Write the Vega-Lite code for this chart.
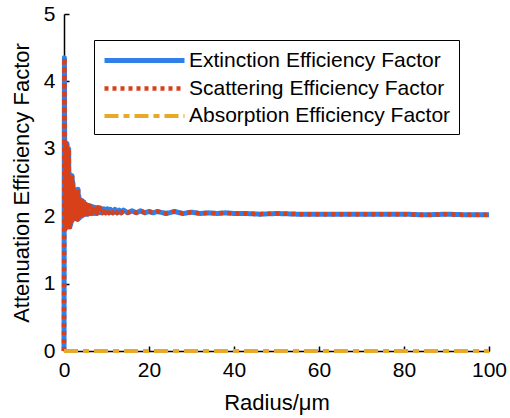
{
  "$schema": "https://vega.github.io/schema/vega-lite/v6.json",
  "width": 425,
  "height": 337,
  "autosize": {"type": "none"},
  "padding": {"left": 64, "top": 14, "right": 21, "bottom": 67},
  "background": "white",
  "config": {"view": {"stroke": null}, "font": "Liberation Sans"},
  "data": {
    "values": [
      {"r": 0, "Extinction": 0, "Scattering": 0, "Absorption": 0},
      {"r": 0.1, "Extinction": 4.35, "Scattering": 4.35, "Absorption": 0},
      {"r": 0.2, "Extinction": 1.8, "Scattering": 1.8, "Absorption": 0},
      {"r": 0.3, "Extinction": 3.1, "Scattering": 3.1, "Absorption": 0},
      {"r": 0.4, "Extinction": 1.82, "Scattering": 1.82, "Absorption": 0},
      {"r": 0.5, "Extinction": 3.05, "Scattering": 3.05, "Absorption": 0},
      {"r": 0.6, "Extinction": 1.84, "Scattering": 1.84, "Absorption": 0},
      {"r": 0.7, "Extinction": 3.08, "Scattering": 3.08, "Absorption": 0},
      {"r": 0.8, "Extinction": 1.85, "Scattering": 1.85, "Absorption": 0},
      {"r": 0.9, "Extinction": 2.95, "Scattering": 2.95, "Absorption": 0},
      {"r": 1.0, "Extinction": 1.84, "Scattering": 1.84, "Absorption": 0},
      {"r": 1.1, "Extinction": 3.0, "Scattering": 3.0, "Absorption": 0},
      {"r": 1.2, "Extinction": 1.85, "Scattering": 1.85, "Absorption": 0},
      {"r": 1.3, "Extinction": 2.6, "Scattering": 2.6, "Absorption": 0},
      {"r": 1.4, "Extinction": 1.84, "Scattering": 1.84, "Absorption": 0},
      {"r": 1.5, "Extinction": 2.62, "Scattering": 2.62, "Absorption": 0},
      {"r": 1.6, "Extinction": 1.88, "Scattering": 1.88, "Absorption": 0},
      {"r": 1.7, "Extinction": 2.55, "Scattering": 2.55, "Absorption": 0},
      {"r": 1.8, "Extinction": 1.92, "Scattering": 1.92, "Absorption": 0},
      {"r": 1.9, "Extinction": 2.6, "Scattering": 2.6, "Absorption": 0},
      {"r": 2.0, "Extinction": 1.95, "Scattering": 1.95, "Absorption": 0},
      {"r": 2.1, "Extinction": 2.5, "Scattering": 2.5, "Absorption": 0},
      {"r": 2.2, "Extinction": 1.98, "Scattering": 1.98, "Absorption": 0},
      {"r": 2.3, "Extinction": 2.38, "Scattering": 2.38, "Absorption": 0},
      {"r": 2.4, "Extinction": 1.96, "Scattering": 1.96, "Absorption": 0},
      {"r": 2.5, "Extinction": 2.4, "Scattering": 2.4, "Absorption": 0},
      {"r": 2.6, "Extinction": 1.99, "Scattering": 1.99, "Absorption": 0},
      {"r": 2.7, "Extinction": 2.36, "Scattering": 2.36, "Absorption": 0},
      {"r": 2.8, "Extinction": 1.97, "Scattering": 1.97, "Absorption": 0},
      {"r": 2.9, "Extinction": 2.38, "Scattering": 2.38, "Absorption": 0},
      {"r": 3.0, "Extinction": 1.96, "Scattering": 1.96, "Absorption": 0},
      {"r": 3.1, "Extinction": 2.35, "Scattering": 2.35, "Absorption": 0},
      {"r": 3.2, "Extinction": 1.95, "Scattering": 1.95, "Absorption": 0},
      {"r": 3.3, "Extinction": 2.4, "Scattering": 2.4, "Absorption": 0},
      {"r": 3.4, "Extinction": 2.0, "Scattering": 2.0, "Absorption": 0},
      {"r": 3.5, "Extinction": 2.3, "Scattering": 2.3, "Absorption": 0},
      {"r": 3.6, "Extinction": 1.97, "Scattering": 1.97, "Absorption": 0},
      {"r": 3.7, "Extinction": 2.25, "Scattering": 2.25, "Absorption": 0},
      {"r": 3.8, "Extinction": 2.0, "Scattering": 2.0, "Absorption": 0},
      {"r": 3.9, "Extinction": 2.24, "Scattering": 2.24, "Absorption": 0},
      {"r": 4.0, "Extinction": 2.02, "Scattering": 2.02, "Absorption": 0},
      {"r": 4.1, "Extinction": 2.22, "Scattering": 2.22, "Absorption": 0},
      {"r": 4.2, "Extinction": 2.0, "Scattering": 2.0, "Absorption": 0},
      {"r": 4.3, "Extinction": 2.23, "Scattering": 2.23, "Absorption": 0},
      {"r": 4.4, "Extinction": 2.03, "Scattering": 2.03, "Absorption": 0},
      {"r": 4.5, "Extinction": 2.2, "Scattering": 2.2, "Absorption": 0},
      {"r": 4.6, "Extinction": 2.02, "Scattering": 2.02, "Absorption": 0},
      {"r": 4.7, "Extinction": 2.21, "Scattering": 2.21, "Absorption": 0},
      {"r": 4.8, "Extinction": 2.03, "Scattering": 2.03, "Absorption": 0},
      {"r": 5.0, "Extinction": 2.18, "Scattering": 2.18, "Absorption": 0},
      {"r": 5.2, "Extinction": 2.03, "Scattering": 2.03, "Absorption": 0},
      {"r": 5.4, "Extinction": 2.17, "Scattering": 2.17, "Absorption": 0},
      {"r": 5.6, "Extinction": 2.03, "Scattering": 2.03, "Absorption": 0},
      {"r": 5.8, "Extinction": 2.16, "Scattering": 2.16, "Absorption": 0},
      {"r": 6.0, "Extinction": 2.04, "Scattering": 2.04, "Absorption": 0},
      {"r": 6.2, "Extinction": 2.15, "Scattering": 2.15, "Absorption": 0},
      {"r": 6.5, "Extinction": 2.04, "Scattering": 2.04, "Absorption": 0},
      {"r": 6.8, "Extinction": 2.14, "Scattering": 2.14, "Absorption": 0},
      {"r": 7.1, "Extinction": 2.04, "Scattering": 2.04, "Absorption": 0},
      {"r": 7.4, "Extinction": 2.13, "Scattering": 2.13, "Absorption": 0},
      {"r": 7.7, "Extinction": 2.04, "Scattering": 2.04, "Absorption": 0},
      {"r": 8.0, "Extinction": 2.13, "Scattering": 2.13, "Absorption": 0},
      {"r": 8.3, "Extinction": 2.05, "Scattering": 2.05, "Absorption": 0},
      {"r": 8.6, "Extinction": 2.12, "Scattering": 2.12, "Absorption": 0},
      {"r": 9.0, "Extinction": 2.05, "Scattering": 2.05, "Absorption": 0},
      {"r": 9.4, "Extinction": 2.11, "Scattering": 2.11, "Absorption": 0},
      {"r": 9.8, "Extinction": 2.05, "Scattering": 2.05, "Absorption": 0},
      {"r": 10.2, "Extinction": 2.11, "Scattering": 2.11, "Absorption": 0},
      {"r": 10.6, "Extinction": 2.05, "Scattering": 2.05, "Absorption": 0},
      {"r": 11, "Extinction": 2.1, "Scattering": 2.1, "Absorption": 0},
      {"r": 11.5, "Extinction": 2.05, "Scattering": 2.05, "Absorption": 0},
      {"r": 12, "Extinction": 2.1, "Scattering": 2.1, "Absorption": 0},
      {"r": 12.5, "Extinction": 2.05, "Scattering": 2.05, "Absorption": 0},
      {"r": 13, "Extinction": 2.09, "Scattering": 2.09, "Absorption": 0},
      {"r": 13.5, "Extinction": 2.05, "Scattering": 2.05, "Absorption": 0},
      {"r": 14, "Extinction": 2.09, "Scattering": 2.09, "Absorption": 0},
      {"r": 15, "Extinction": 2.05, "Scattering": 2.05, "Absorption": 0},
      {"r": 16, "Extinction": 2.08, "Scattering": 2.08, "Absorption": 0},
      {"r": 17, "Extinction": 2.05, "Scattering": 2.05, "Absorption": 0},
      {"r": 18, "Extinction": 2.08, "Scattering": 2.08, "Absorption": 0},
      {"r": 19, "Extinction": 2.05, "Scattering": 2.05, "Absorption": 0},
      {"r": 20, "Extinction": 2.07, "Scattering": 2.07, "Absorption": 0},
      {"r": 21, "Extinction": 2.05, "Scattering": 2.05, "Absorption": 0},
      {"r": 22, "Extinction": 2.07, "Scattering": 2.07, "Absorption": 0},
      {"r": 24, "Extinction": 2.04, "Scattering": 2.04, "Absorption": 0},
      {"r": 26, "Extinction": 2.07, "Scattering": 2.07, "Absorption": 0},
      {"r": 28, "Extinction": 2.04, "Scattering": 2.04, "Absorption": 0},
      {"r": 30, "Extinction": 2.06, "Scattering": 2.06, "Absorption": 0},
      {"r": 32, "Extinction": 2.04, "Scattering": 2.04, "Absorption": 0},
      {"r": 34, "Extinction": 2.05, "Scattering": 2.05, "Absorption": 0},
      {"r": 36, "Extinction": 2.04, "Scattering": 2.04, "Absorption": 0},
      {"r": 38, "Extinction": 2.05, "Scattering": 2.05, "Absorption": 0},
      {"r": 40, "Extinction": 2.04, "Scattering": 2.04, "Absorption": 0},
      {"r": 43, "Extinction": 2.04, "Scattering": 2.04, "Absorption": 0},
      {"r": 46, "Extinction": 2.03, "Scattering": 2.03, "Absorption": 0},
      {"r": 50, "Extinction": 2.04, "Scattering": 2.04, "Absorption": 0},
      {"r": 55, "Extinction": 2.03, "Scattering": 2.03, "Absorption": 0},
      {"r": 60, "Extinction": 2.03, "Scattering": 2.03, "Absorption": 0},
      {"r": 65, "Extinction": 2.03, "Scattering": 2.03, "Absorption": 0},
      {"r": 70, "Extinction": 2.03, "Scattering": 2.03, "Absorption": 0},
      {"r": 75, "Extinction": 2.03, "Scattering": 2.03, "Absorption": 0},
      {"r": 80, "Extinction": 2.03, "Scattering": 2.03, "Absorption": 0},
      {"r": 85, "Extinction": 2.02, "Scattering": 2.02, "Absorption": 0},
      {"r": 90, "Extinction": 2.03, "Scattering": 2.03, "Absorption": 0},
      {"r": 95, "Extinction": 2.02, "Scattering": 2.02, "Absorption": 0},
      {"r": 100, "Extinction": 2.02, "Scattering": 2.02, "Absorption": 0}
    ]
  },
  "transform": [
    {"fold": ["Extinction", "Scattering", "Absorption"], "as": ["series", "q"]}
  ],
  "mark": {"type": "line", "strokeCap": "butt", "strokeJoin": "round"},
  "encoding": {
    "x": {
      "field": "r",
      "type": "quantitative",
      "scale": {"domain": [0, 100], "nice": false, "zero": false},
      "axis": {
        "values": [0, 20, 40, 60, 80, 100],
        "title": "Radius/μm",
        "grid": false,
        "tickSize": -5,
        "tickWidth": 1.5,
        "tickColor": "black",
        "domainColor": "black",
        "domainWidth": 1.5,
        "labelColor": "black",
        "labelFontSize": 21,
        "labelPadding": 13,
        "labelFlush": false,
        "titleFontSize": 22,
        "titleFontWeight": "normal",
        "titleColor": "black",
        "titlePadding": 12
      }
    },
    "y": {
      "field": "q",
      "type": "quantitative",
      "scale": {"domain": [0, 5], "nice": false},
      "axis": {
        "values": [0, 1, 2, 3, 4, 5],
        "title": "Attenuation Efficiency Factor",
        "grid": false,
        "tickSize": -5,
        "tickWidth": 1.5,
        "tickColor": "black",
        "domainColor": "black",
        "domainWidth": 1.5,
        "labelColor": "black",
        "labelFontSize": 21,
        "labelPadding": 14,
        "labelFlush": false,
        "titleFontSize": 22,
        "titleFontWeight": "normal",
        "titleColor": "black",
        "titlePadding": 10
      }
    },
    "color": {
      "field": "series",
      "type": "nominal",
      "sort": ["Extinction", "Scattering", "Absorption"],
      "scale": {
        "domain": ["Extinction", "Scattering", "Absorption"],
        "range": ["#3080E8", "#D8401A", "#E8A82A"]
      },
      "legend": {
        "title": null,
        "orient": "none",
        "legendX": 30,
        "legendY": 26,
        "strokeColor": "black",
        "fillColor": "white",
        "padding": 8,
        "symbolType": "M-4,0L4,0",
        "symbolSize": 400,
        "symbolOffset": 30,
        "labelFontSize": 21,
        "labelColor": "black",
        "labelOffset": 32,
        "labelLimit": 400,
        "rowPadding": 5,
        "labelExpr": "datum.label + ' Efficiency Factor'"
      }
    },
    "strokeDash": {
      "field": "series",
      "type": "nominal",
      "sort": ["Extinction", "Scattering", "Absorption"],
      "scale": {
        "domain": ["Extinction", "Scattering", "Absorption"],
        "range": [[1, 0], [4, 4], [14, 5, 6, 5]]
      }
    },
    "strokeWidth": {
      "field": "series",
      "type": "nominal",
      "sort": ["Extinction", "Scattering", "Absorption"],
      "scale": {
        "domain": ["Extinction", "Scattering", "Absorption"],
        "range": [5, 4, 4]
      }
    }
  }
}
